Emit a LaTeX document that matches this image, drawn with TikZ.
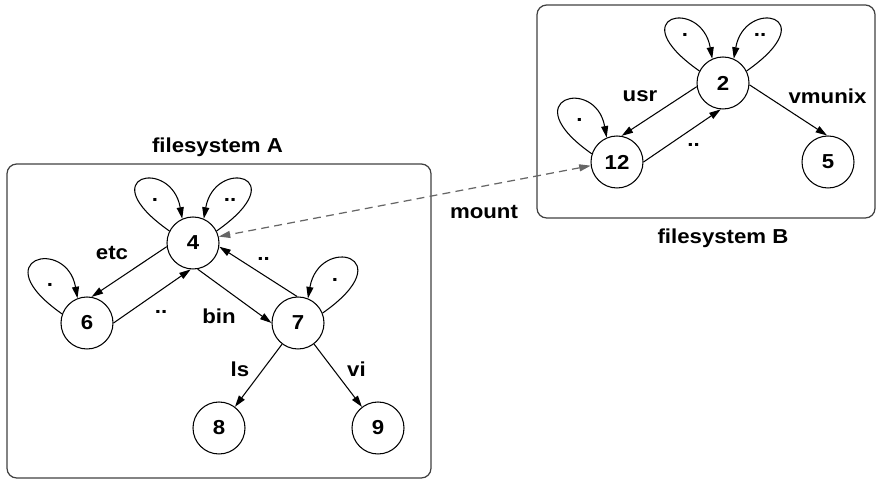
\documentclass[tikz,border=0pt]{standalone}
\usepackage{fontspec}
\setmainfont[FakeStretch=1.1]{Liberation Sans}
\usetikzlibrary{arrows.meta}

\tikzset{
    inode/.style={circle, draw, line width=0.6pt, minimum size=1.04cm, inner sep=0pt},
    link/.style={-{Triangle[length=2.3mm,width=1.4mm]}, line width=0.6pt},
    fsbox/.style={rounded corners=5.5pt, draw=black!75, line width=0.7pt},
    dotlbl/.style={anchor=base, inner sep=0pt},
}

\begin{document}
\begin{tikzpicture}[font=\fontsize{11.5}{13.5}\selectfont\bfseries]
    \useasboundingbox (0,0) rectangle (17.52,9.62);

    % filesystem A
    \draw[fsbox] (0.14,0.06) rectangle (8.62,6.34);
    \node (titleA) at (4.35,6.67) {filesystem A};

    \node[inode] (n4) at (3.86,4.76) {4};
    \node[inode] (n6) at (1.74,3.16) {6};
    \node[inode] (n7) at (5.96,3.16) {7};
    \node[inode] (n8) at (4.38,1.06) {8};
    \node[inode] (n9) at (7.56,1.06) {9};

    \draw[link] (n4.153) .. controls +(145:1.95) and +(100:1.25) .. (n4.114);
    \draw[link] (n4.27) .. controls +(35:1.95) and +(80:1.25) .. (n4.66);
    \draw[link] (n6.160) .. controls +(145:1.95) and +(100:1.25) .. (n6.111);
    \draw[link] (n7.22) .. controls +(35:2.0) and +(80:1.3) .. (n7.68);
    \node[dotlbl] (d4a) at (3.10,5.58) {.};
    \node[dotlbl] (d4b) at (4.60,5.59) {..};
    \node[dotlbl] (d6) at (1.00,3.89) {.};
    \node[dotlbl] (d7) at (6.70,3.99) {.};

    \draw[link] (n4.188) -- (n6.80);
    \draw[link] (n6.0) -- (n4.265);
    \draw[link] (n4.-80) -- (n7.180);
    \draw[link] (n7.92) -- (n4.-8);
    \draw[link] (n7) -- (n8);
    \draw[link] (n7) -- (n9);
    \node (etc) at (2.24,4.55) {etc};
    \node[dotlbl] (up6) at (3.22,3.34) {..};
    \node (bin) at (4.38,3.29) {bin};
    \node[dotlbl] (up7) at (5.27,4.41) {..};
    \node (ls) at (4.80,2.24) {ls};
    \node (vi) at (7.13,2.23) {vi};

    % filesystem B
    \draw[fsbox] (10.74,5.26) rectangle (17.50,9.52);
    \node (titleB) at (14.46,4.86) {filesystem B};

    \node[inode] (n2) at (14.46,7.96) {2};
    \node[inode] (n12) at (12.34,6.38) {12};
    \node[inode] (n5) at (16.56,6.38) {5};

    \draw[link] (n2.153) .. controls +(145:1.95) and +(100:1.25) .. (n2.114);
    \draw[link] (n2.27) .. controls +(35:1.95) and +(80:1.25) .. (n2.66);
    \draw[link] (n12.162) .. controls +(145:1.95) and +(100:1.25) .. (n12.113);
    \node[dotlbl] (d2a) at (13.70,8.88) {.};
    \node[dotlbl] (d2b) at (15.20,8.88) {..};
    \node[dotlbl] (d12) at (11.59,7.18) {.};

    \draw[link] (n2.188) -- (n12.80);
    \draw[link] (n12.0) -- (n2.265);
    \draw[link] (n2.-4) -- (n5.92);
    \node (usr) at (12.80,7.69) {usr};
    \node[dotlbl] (up12) at (13.87,6.68) {..};
    \node (vmunix) at (16.55,7.69) {vmunix};

    % mount point
    \draw[{Triangle[length=2.3mm,width=1.4mm]}-{Triangle[length=2.3mm,width=1.4mm]}, line width=0.7pt, black!60, dash pattern=on 4.5pt off 3pt] (n12.188) -- (n4.14);
    \node (mount) at (9.68,5.38) {mount};
\end{tikzpicture}
\end{document}
